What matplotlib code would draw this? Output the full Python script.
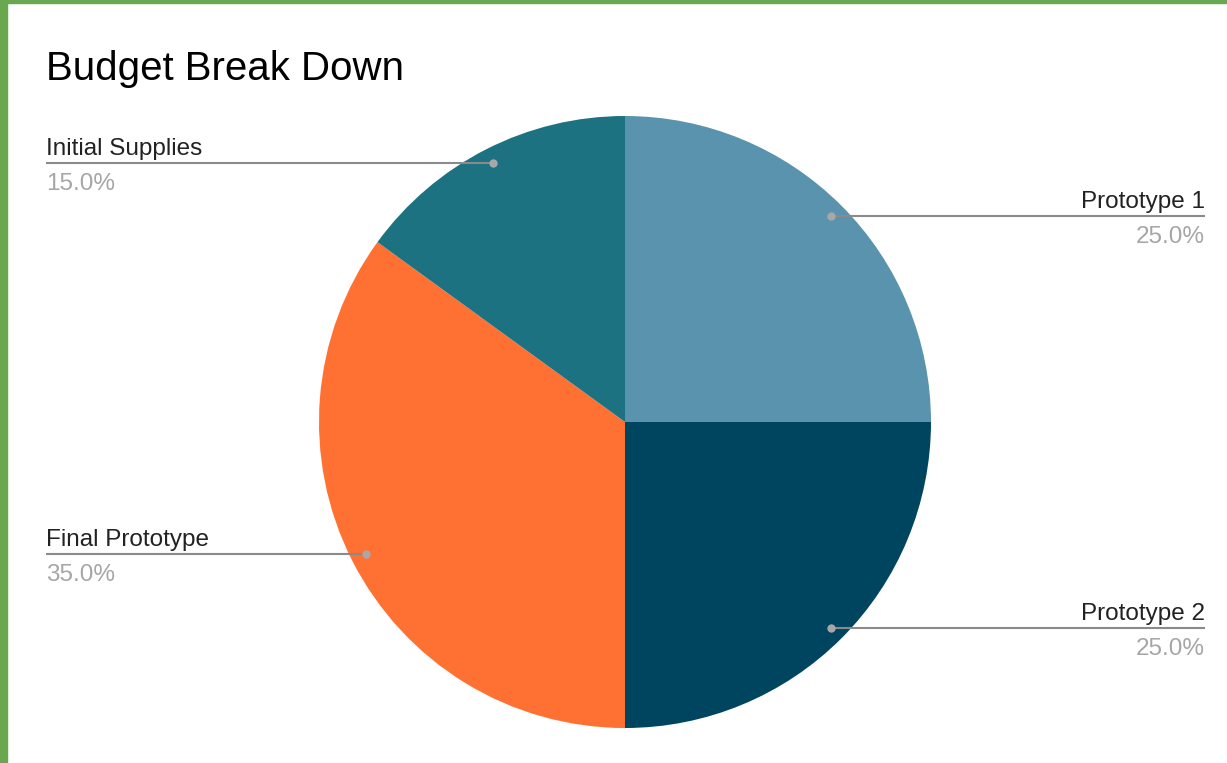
import numpy as np
import matplotlib.pyplot as plt
from matplotlib.patches import Rectangle

title = 'Budget Break Down'
labels = ['Prototype 1', 'Prototype 2', 'Final Prototype', 'Initial Supplies']
shares = [25.0, 25.0, 35.0, 15.0]
colors = ['#5a93ad', '#00455f', '#ff7033', '#1d7282']

W, H = 1227, 763
plt.rcParams['font.family'] = ['Liberation Sans', 'DejaVu Sans']

fig = plt.figure(figsize=(W / 100, H / 100), dpi=100)
ax = fig.add_axes([0, 0, 1, 1])

cx, cy, R = 625, H - 422, 306
wedges, _ = ax.pie(shares, colors=colors, startangle=90, counterclock=False,
                   center=(cx, cy), radius=R, wedgeprops=dict(linewidth=0))
ax.set_xlim(0, W)
ax.set_ylim(0, H)
ax.set_aspect('equal')
ax.set_axis_off()

# leader lines and labels
for w, lab, val in zip(wedges, labels, shares):
    mid = np.deg2rad((w.theta1 + w.theta2) / 2)
    px, py = cx + 0.95 * R * np.cos(mid), cy + 0.95 * R * np.sin(mid)
    if np.cos(mid) >= 0:
        x_end, ha = 1205, 'right'
    else:
        x_end, ha = 46, 'left'
    ax.plot([px, x_end], [py, py], color='#8a8a8a', lw=1.5, solid_capstyle='butt')
    ax.plot(px, py, 'o', color='#a8a8a8', ms=6, mec='none')
    ax.text(x_end, py + 8, lab, ha=ha, va='baseline', fontsize=17.5, color='#222222')
    ax.text(x_end, py - 10, '%.1f%%' % val, ha=ha, va='top', fontsize=17.5, color='#a6a6a6')

fig.text(46 / W, 1 - 80 / H, title, ha='left', va='baseline', fontsize=29, color='#000000')

# green frame on the left and top
fig.patches.append(Rectangle((0, 0), 7 / W, 1, transform=fig.transFigure, color='#6aa84f'))
fig.patches.append(Rectangle((0, 1 - 3 / H), 1, 3 / H, transform=fig.transFigure, color='#6aa84f'))

fig.savefig('out.png', dpi=100)
